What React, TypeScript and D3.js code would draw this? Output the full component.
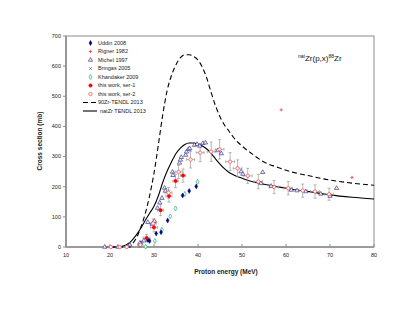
import React from "react";
import * as d3 from "d3";

// TENDL 2013 curves
const tendl90E = [20, 23, 24, 25, 26, 27, 28, 29, 30, 31, 32, 33, 34, 35, 36, 37, 38, 39, 40, 41, 42, 43, 44, 45, 46, 47, 48, 50, 52, 55, 58, 61, 65, 70, 75, 80];
const tendl90V = [0, 0, 3, 10, 30, 65, 110, 170, 245, 340, 440, 520, 570, 605, 628, 638, 638, 632, 620, 596, 560, 512, 468, 432, 405, 385, 365, 335, 312, 282, 265, 250, 237, 222, 212, 205];
const tendlNatE = [20, 22, 23, 24, 25, 26, 27, 28, 29, 30, 31, 32, 33, 34, 35, 36, 37, 38, 39, 40, 41, 42, 43, 44, 45, 46, 47, 48, 50, 52, 55, 58, 62, 66, 70, 75, 80];
const tendlNatV = [0, 0, 3, 10, 22, 40, 62, 88, 112, 135, 170, 215, 252, 283, 310, 328, 340, 345, 345, 341, 335, 325, 310, 292, 275, 260, 248, 240, 228, 218, 208, 200, 190, 182, 173, 165, 159];

// experimental data
const uddinE = [24.5, 26.8, 27.0, 28.6, 29.0, 30.5, 31.6, 33.1, 36.5, 38.0, 39.6];
const uddinV = [5, 7, 12, 23, 20, 45, 49, 88, 171, 186, 201];
const rignerE = [58.9, 75.0];
const rignerV = [455, 231];
const michelE = [18.8, 21.8, 24.5, 26.8, 27.7, 28.6, 29.6, 30.1, 30.8, 31.3, 31.8, 32.4, 32.6, 34.2, 34.3, 35.8, 36.0, 36.2, 37.2, 37.4, 37.8, 38.1, 39.2, 39.8, 40.4, 41.1, 41.7, 44.5, 45.3, 49.8, 50.2, 54.3, 54.7, 56.6, 61.2, 62.5, 64.5, 67.9, 70.0, 71.5];
const michelV = [0, 0, 7, 13, 21, 82, 76, 86, 129, 147, 162, 196, 186, 249, 238, 279, 289, 298, 305, 316, 324, 327, 338, 341, 335, 344, 346, 320, 310, 250, 242, 211, 248, 202, 189, 187, 184, 176, 169, 195];
const bringasE = [19.4, 26.7, 27.3];
const bringasV = [0, 10, 18];
const khandakerE = [28.1, 30.2, 31.8, 33.7, 34.9, 37.0, 39.9];
const khandakerV = [1, 20, 57, 102, 128, 176, 216];
const ser1E = [28.3, 30.0, 31.5, 33.4, 34.9, 36.6];
const ser1V = [30, 65, 122, 169, 219, 237];
const ser1dE = [0.8, 0.8, 0.7, 0.7, 0.6, 0.6];
const ser1dV = [12, 15, 18, 20, 22, 22];
const ser2E = [20.2, 22.2, 23.8, 26.9, 29.8, 33.3, 35.6, 38.3, 40.5, 43.0, 44.9, 47.3, 49.0, 51.3, 53.7, 57.3, 60.5, 63.8, 66.6, 69.8];
const ser2V = [0, 0, 0, 7, 78, 180, 249, 290, 313, 316, 324, 283, 261, 236, 217, 199, 195, 187, 184, 175];
const ser2dE = [0, 0, 0, 0.6, 0.7, 0.8, 0.8, 0.9, 0.9, 0.9, 1.0, 1.0, 1.0, 1.0, 1.0, 1.0, 1.0, 1.0, 1.0, 1.0];
const ser2dV = [0, 0, 0, 3, 15, 18, 22, 28, 30, 32, 32, 30, 28, 25, 24, 22, 22, 22, 22, 20];

const xTicks = [10, 20, 30, 40, 50, 60, 70, 80];
const yTicks = [0, 100, 200, 300, 400, 500, 600, 700];

const legendLabels = [
  "Uddin 2008",
  "Rigner 1982",
  "Michel 1997",
  "Bringas 2005",
  "Khandaker 2009",
  "this work, ser-1",
  "this work, ser-2",
  "90Zr-TENDL 2013",
  "natZr TENDL 2013",
];

const font = "'Liberation Sans', Arial, sans-serif";
const gray = "#8c8c8c";

const x = d3.scaleLinear().domain([10, 80]).range([66, 374]);
const y = d3.scaleLinear().domain([0, 700]).range([247, 36]);

const line = d3
  .line<[number, number]>()
  .x((d) => x(d[0]))
  .y((d) => y(d[1]))
  .curve(d3.curveMonotoneX);

const zip = (a: number[], b: number[]) => a.map((v, i) => [v, b[i]] as [number, number]);

const diamond = d3.symbol().type(d3.symbolDiamond).size(7)();
const triangle = d3.symbol().type(d3.symbolTriangle).size(8)();
const circle = d3.symbol().type(d3.symbolCircle).size(9)();
const xMark = d3.symbol().type(d3.symbolX).size(5)();
const plus = "M-1.6,0H1.6M0,-1.6V1.6";

type MarkerKind = "uddin" | "rigner" | "michel" | "bringas" | "khandaker" | "ser1" | "ser2";

const Marker = ({ kind, cx, cy }: { kind: MarkerKind; cx: number; cy: number }) => {
  const t = `translate(${cx},${cy})`;
  switch (kind) {
    case "uddin":
      return <path d={diamond} transform={t} fill="#000080" stroke="#000080" strokeWidth={0.5} />;
    case "rigner":
      return <path d={plus} transform={t} fill="none" stroke="#ff2020" strokeWidth={0.7} />;
    case "michel":
      return <path d={triangle} transform={t} fill="#ffff99" stroke="#3333cc" strokeWidth={0.7} />;
    case "bringas":
      return <path d={xMark} transform={t} fill="#993399" stroke="#993399" strokeWidth={0.7} />;
    case "khandaker":
      return <path d={diamond} transform={t} fill="#ffffff" stroke="#33bb77" strokeWidth={0.8} />;
    case "ser1":
      return <path d={circle} transform={t} fill="#ff0000" stroke="#ff0000" strokeWidth={0.5} />;
    default:
      return <path d={circle} transform={t} fill="#ffffff" stroke="#ff5050" strokeWidth={0.8} />;
  }
};

const ErrorBars = ({ es, vs, des, dvs }: { es: number[]; vs: number[]; des: number[]; dvs: number[] }) => (
  <g stroke="#999999" strokeWidth={0.7} fill="none">
    {es.map((e, i) => {
      if (dvs[i] === 0 && des[i] === 0) return null;
      const cx = x(e);
      const cy = y(vs[i]);
      const y0 = y(vs[i] - dvs[i]);
      const y1 = y(vs[i] + dvs[i]);
      const x0 = x(e - des[i]);
      const x1 = x(e + des[i]);
      return (
        <g key={i}>
          <line x1={cx} x2={cx} y1={y0} y2={y1} />
          <line x1={cx - 1.5} x2={cx + 1.5} y1={y0} y2={y0} />
          <line x1={cx - 1.5} x2={cx + 1.5} y1={y1} y2={y1} />
          <line x1={x0} x2={x1} y1={cy} y2={cy} />
          <line x1={x0} x2={x0} y1={cy - 1.5} y2={cy + 1.5} />
          <line x1={x1} x2={x1} y1={cy - 1.5} y2={cy + 1.5} />
        </g>
      );
    })}
  </g>
);

const Series = ({ kind, es, vs }: { kind: MarkerKind; es: number[]; vs: number[] }) => (
  <g>
    {es.map((e, i) => (
      <Marker key={i} kind={kind} cx={x(e)} cy={y(vs[i])} />
    ))}
  </g>
);

const legendKinds: (MarkerKind | "dash" | "solid")[] = [
  "uddin",
  "rigner",
  "michel",
  "bringas",
  "khandaker",
  "ser1",
  "ser2",
  "dash",
  "solid",
];

export default function App() {
  const [xMin, xMax] = x.range();
  const [yBot, yTop] = y.range();
  return (
    <svg
      width={415}
      height={321}
      style={{ position: "absolute", left: 0, top: 0, background: "#fff" }}
      fontFamily={font}
    >
      <rect x={0} y={0} width={415} height={321} fill="#fff" />
      <rect x={xMin} y={yTop} width={xMax - xMin} height={yBot - yTop} fill="none" stroke={gray} strokeWidth={1} />

      {/* axes */}
      <line x1={xMin} x2={xMin} y1={yTop} y2={yBot} stroke={gray} strokeWidth={1.6} />
      <line x1={xMin} x2={xMax} y1={yBot} y2={yBot} stroke={gray} strokeWidth={1.6} />
      {yTicks.map((t) => (
        <g key={t}>
          <line x1={xMin - 3} x2={xMin} y1={y(t)} y2={y(t)} stroke={gray} strokeWidth={1} />
          <text x={xMin - 5} y={y(t)} dy="0.35em" textAnchor="end" fontSize={5.5} fill="#222">
            {t}
          </text>
        </g>
      ))}
      {xTicks.map((t) => (
        <g key={t}>
          <line x1={x(t)} x2={x(t)} y1={yBot} y2={yBot - 3} stroke={gray} strokeWidth={1} />
          <text x={x(t)} y={yBot + 10} textAnchor="middle" fontSize={5.5} fill="#222">
            {t}
          </text>
        </g>
      ))}
      <text x={226} y={274} textAnchor="middle" fontSize={6.5} fontWeight="bold" fill="#222">
        Proton  energy (MeV)
      </text>
      <text
        transform={`translate(42,141) rotate(-90)`}
        textAnchor="middle"
        fontSize={6.5}
        fontWeight="bold"
        fill="#222"
      >
        Cross section (mb)
      </text>

      {/* title */}
      <text x={298} y={61} fontSize={8} fill="#111">
        <tspan fontSize={5} dy={-3}>nat</tspan>
        <tspan dy={3}>Zr(p,x)</tspan>
        <tspan fontSize={5} dy={-3}>88</tspan>
        <tspan dy={3}>Zr</tspan>
      </text>

      {/* curves */}
      <path d={line(zip(tendl90E, tendl90V)) ?? ""} fill="none" stroke="#000" strokeWidth={1.1} strokeDasharray="5,3" />
      <path d={line(zip(tendlNatE, tendlNatV)) ?? ""} fill="none" stroke="#000" strokeWidth={1.1} />

      {/* data */}
      <ErrorBars es={ser2E} vs={ser2V} des={ser2dE} dvs={ser2dV} />
      <ErrorBars es={ser1E} vs={ser1V} des={ser1dE} dvs={ser1dV} />
      <Series kind="khandaker" es={khandakerE} vs={khandakerV} />
      <Series kind="uddin" es={uddinE} vs={uddinV} />
      <Series kind="bringas" es={bringasE} vs={bringasV} />
      <Series kind="michel" es={michelE} vs={michelV} />
      <Series kind="rigner" es={rignerE} vs={rignerV} />
      <Series kind="ser1" es={ser1E} vs={ser1V} />
      <Series kind="ser2" es={ser2E} vs={ser2V} />

      {/* legend */}
      {legendLabels.map((label, i) => {
        const ly = 43 + i * 8.5;
        const k = legendKinds[i];
        return (
          <g key={label}>
            {k === "dash" ? (
              <line x1={83} x2={97} y1={ly} y2={ly} stroke="#000" strokeWidth={1.1} strokeDasharray="5,3" />
            ) : k === "solid" ? (
              <line x1={83} x2={97} y1={ly} y2={ly} stroke="#000" strokeWidth={1.1} />
            ) : (
              <Marker kind={k} cx={90.5} cy={ly} />
            )}
            <text x={k === "solid" ? 100 : 98} y={ly} dy="0.35em" fontSize={5.5} fill="#222">
              {label}
            </text>
          </g>
        );
      })}
    </svg>
  );
}
